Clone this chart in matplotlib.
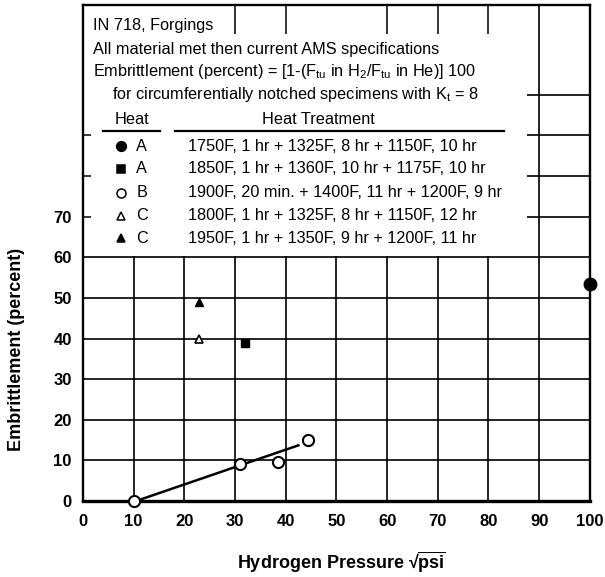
"""Hydrogen embrittlement of IN 718 forgings vs. square root of hydrogen pressure."""

import matplotlib

matplotlib.use("Agg")
import matplotlib.pyplot as plt
from matplotlib.patches import Rectangle

plt.rcParams["font.family"] = ["Liberation Sans", "DejaVu Sans"]
plt.rcParams["mathtext.fontset"] = "custom"
plt.rcParams["mathtext.rm"] = "Liberation Sans"
plt.rcParams["mathtext.it"] = "Liberation Sans:italic"
plt.rcParams["mathtext.bf"] = "Liberation Sans:bold"

# measured points, one list pair per heat / heat treatment
heat_a1_x = [100]
heat_a1_y = [53.5]
heat_a2_x = [32]
heat_a2_y = [39]
heat_b_x = [10, 31, 38.5, 44.5]
heat_b_y = [0, 9, 9.5, 15]
heat_c1_x = [23]
heat_c1_y = [40]
heat_c2_x = [23]
heat_c2_y = [49]

# straight line through the heat B results
fit_x = [10.5, 42.5]
fit_y = [0, 13.7]

x_ticks = [0, 10, 20, 30, 40, 50, 60, 70, 80, 90, 100]
y_ticks = [0, 10, 20, 30, 40, 50, 60, 70]

key_heats = ["A", "A", "B", "C", "C"]
key_treatments = [
    "1750F, 1 hr + 1325F, 8 hr + 1150F, 10 hr",
    "1850F, 1 hr + 1360F, 10 hr + 1175F, 10 hr",
    "1900F, 20 min. + 1400F, 11 hr + 1200F, 9 hr",
    "1800F, 1 hr + 1325F, 8 hr + 1150F, 12 hr",
    "1950F, 1 hr + 1350F, 9 hr + 1200F, 11 hr",
]

# marker style per key row: (marker, face, size)
key_styles = [("o", "black", 7), ("s", "black", 5.5), ("o", "white", 6.5),
              ("^", "white", 5.5), ("^", "black", 5.5)]

fig = plt.figure(figsize=(6.05, 5.77), dpi=100)
ax = fig.add_axes([0.137, 0.1317, 0.838, 0.859])
ax.set_xlim(0, 100)
ax.set_ylim(0, 122)

# full grid, partly hidden later by the white key panel
ax.set_axisbelow(True)
for gx in x_ticks[1:-1]:
    ax.axvline(gx, color="black", lw=1.2, zorder=0.5)
for gy in [10, 20, 30, 40, 50, 60, 70, 80, 90, 100]:
    ax.axhline(gy, color="black", lw=1.2, zorder=0.5)

ax.add_patch(Rectangle((0.3, 60.4), 87.3, 61.4, facecolor="white",
                       edgecolor="none", zorder=1))
# short pieces of grid that still show around the key
ax.vlines([30, 40, 60, 70, 80], 115, 122, color="black", lw=1.1, zorder=2)
ax.hlines([70, 80, 90], 0, 1.6, color="black", lw=1.1, zorder=2)

for side in ["left", "right", "top"]:
    ax.spines[side].set_linewidth(1.7)
ax.spines["bottom"].set_linewidth(2.4)

ax.set_xticks(x_ticks)
ax.set_yticks(y_ticks)
ax.tick_params(length=0, labelsize=12)
ax.tick_params(axis="x", pad=9)
ax.tick_params(axis="y", pad=8)
for lab in ax.get_xticklabels() + ax.get_yticklabels():
    lab.set_fontweight("bold")

# data
ax.plot(fit_x, fit_y, color="black", lw=1.8, zorder=3)
ax.plot(heat_a1_x, heat_a1_y, "o", color="black", ms=9, zorder=4, clip_on=False)
ax.plot(heat_a2_x, heat_a2_y, "s", color="black", ms=6, zorder=4)
ax.plot(heat_b_x, heat_b_y, "o", mfc="white", mec="black", mew=1.5, ms=8,
        zorder=4, clip_on=False)
ax.plot(heat_c1_x, heat_c1_y, "^", mfc="white", mec="black", mew=1.2, ms=6, zorder=4)
ax.plot(heat_c2_x, heat_c2_y, "^", color="black", ms=6, zorder=4)

# key panel text
fs = 11.7
ax.text(1.97, 117.0, "IN 718, Forgings", fontsize=fs, va="center", zorder=3)
ax.text(1.9, 111.2, "All material met then current AMS specifications",
        fontsize=fs, va="center", zorder=3)
ax.text(1.9, 105.6,
        r"Embrittlement (percent) = [1-(F$_{\mathrm{tu}}$ in H$_2$/F$_{\mathrm{tu}}$ in He)] 100",
        fontsize=fs, va="center", zorder=3)
ax.text(5.7, 100.0, r"for circumferentially notched specimens with K$_{\mathrm{t}}$ = 8",
        fontsize=fs, va="center", zorder=3)
ax.text(9.6, 93.8, "Heat", fontsize=fs, ha="center", va="center", zorder=3)
ax.text(46.5, 93.8, "Heat Treatment", fontsize=fs, ha="center", va="center", zorder=3)
ax.plot([3.9, 15.2], [91.0, 91.0], color="black", lw=1.6, zorder=3)
ax.plot([18.1, 83.0], [91.0, 91.0], color="black", lw=1.6, zorder=3)

row_y = [87.3, 81.8, 75.9, 70.2, 64.7]
for yy, heat, treat, (mk, face, size) in zip(row_y, key_heats, key_treatments, key_styles):
    ax.plot([7.5], [yy], mk, mfc=face, mec="black", mew=1.1, ms=size, zorder=3)
    ax.text(11.6, yy, heat, fontsize=fs, ha="center", va="center", zorder=3)
    ax.text(20.7, yy, treat, fontsize=fs, va="center", zorder=3)

fig.text(0.565, 0.026, "Hydrogen Pressure \u221a" + r"$\overline{\mathbf{psi}}$",
         fontsize=13, fontweight="bold", ha="center", va="center")
fig.text(0.028, 0.395, "Embrittlement (percent)", fontsize=13, fontweight="bold",
         rotation=90, ha="center", va="center")

fig.savefig("out.png", dpi=100)
